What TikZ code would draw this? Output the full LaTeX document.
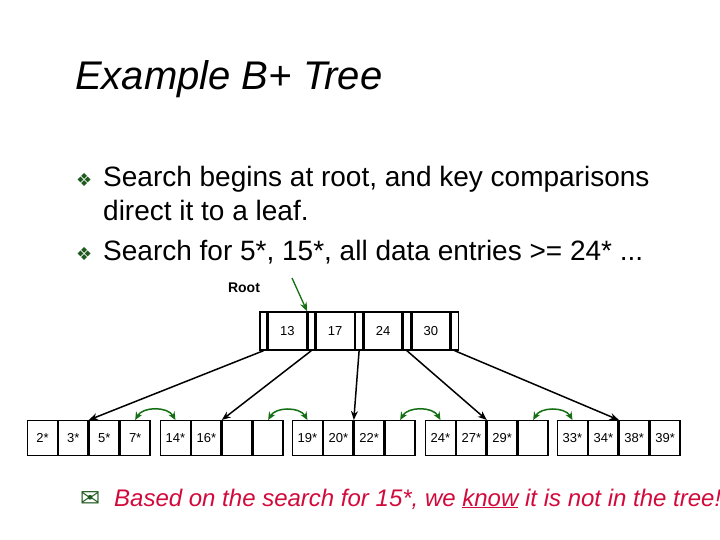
\documentclass[tikz,border=0pt]{standalone}
\usepackage{fontspec}
\setmainfont{Liberation Sans}
\newfontfamily\symfont{DejaVu Sans}
\usetikzlibrary{arrows.meta,positioning}
\definecolor{bulletgreen}{RGB}{30,90,30}
\definecolor{arrowgreen}{RGB}{20,110,20}
\definecolor{notered}{RGB}{210,10,60}

\tikzset{
  cell/.style={draw, line width=1.4pt, minimum width=29.5pt, minimum height=35pt,
               inner sep=0pt, font=\fontsize{13}{13}\selectfont},
  keycell/.style={draw, line width=1.4pt, minimum width=38pt, minimum height=38pt,
               inner sep=0pt, font=\fontsize{13}{13}\selectfont},
  ptrcell/.style={draw, line width=1.4pt, minimum width=7pt, minimum height=38pt, inner sep=0pt},
  childptr/.style={-{Stealth[length=9pt,width=7pt]}, line width=1.5pt},
  sibling/.style={{Stealth[length=8pt,width=7pt]}-{Stealth[length=8pt,width=7pt]}, line width=1.5pt, arrowgreen, bend left=60},
  bullet/.style={anchor=base west, inner sep=0pt, font=\fontsize{28}{28}\selectfont}
}

\begin{document}
\begin{tikzpicture}[x=1pt, y=-1pt]
\useasboundingbox (0,0) rectangle (720,540);

% heading and bullets
\node[anchor=base west, inner sep=0pt, font=\fontsize{40}{40}\selectfont\itshape] (title) at (75,90) {Example B+ Tree};
\node[anchor=base west, inner sep=0pt, text=bulletgreen, font=\symfont\fontsize{18}{18}\selectfont] (b1) at (76,187) {❖};
\node[bullet] (t1) at (103,187) {Search begins at root, and key comparisons};
\node[bullet] (t2) at (103,221) {direct it to a leaf.};
\node[anchor=base west, inner sep=0pt, text=bulletgreen, font=\symfont\fontsize{18}{18}\selectfont] (b2) at (76,260) {❖};
\node[bullet] (t3) at (103,260) {Search for 5*, 15*, all data entries >= 24* ...};

% root node
\node[ptrcell] (p0) at (263.5,331) {};
\node[keycell, right=0pt of p0] (k1) {13};
\node[ptrcell, right=0pt of k1] (p1) {};
\node[keycell, right=0pt of p1] (k2) {17};
\node[ptrcell, right=0pt of k2] (p2) {};
\node[keycell, right=0pt of p2] (k3) {24};
\node[ptrcell, right=0pt of k3] (p3) {};
\node[keycell, right=0pt of p3] (k4) {30};
\node[ptrcell, right=0pt of k4] (p4) {};

\node[font=\fontsize{14}{14}\selectfont\bfseries] (root) at (244,288) {Root};
\coordinate (rootin) at (292,278);
\draw[-{Stealth[length=9pt,width=7pt]}, line width=1.3pt, arrowgreen] (rootin) -- (p1.north west);

% leaves
\foreach \n/\lx/\a/\b/\c/\d in {1/27/2*/3*/5*/7*, 2/160/14*/16*//, 3/292/19*/20*/22*/,
                                 4/425/24*/27*/29*/, 5/557/33*/34*/38*/39*}{
  \node[cell, anchor=north west] (l\n c1) at (\lx,420) {\a};
  \node[cell, right=0pt of l\n c1] (l\n c2) {\b};
  \node[cell, right=0pt of l\n c2] (l\n c3) {\c};
  \node[cell, right=0pt of l\n c3] (l\n c4) {\d};
}

% child pointers
\draw[childptr] (p0.south) -- (l1c2.north east);
\draw[childptr] (p1.south) -- (l2c2.north east);
\draw[childptr] (p2.south) -- (l3c2.north east);
\draw[childptr] (p3.south) -- (l4c2.north east);
\draw[childptr] (p4.south) -- (l5c2.north east);

% sibling links
\draw[sibling] (l1c4.north) to (l2c1.north);
\draw[sibling] (l2c4.north) to (l3c1.north);
\draw[sibling] (l3c4.north) to (l4c1.north);
\draw[sibling] (l4c4.north) to (l5c1.north);

% note
\node[anchor=base west, inner sep=0pt, text=bulletgreen, font=\symfont\fontsize{24}{24}\selectfont] (env) at (80,506) {✉};
\node[anchor=base west, inner sep=0pt, text=notered, font=\fontsize{24}{24}\selectfont\itshape] (note) at (114,506)
  {Based on the search for 15*, we \underline{know} it is not in the tree!};
\end{tikzpicture}
\end{document}
